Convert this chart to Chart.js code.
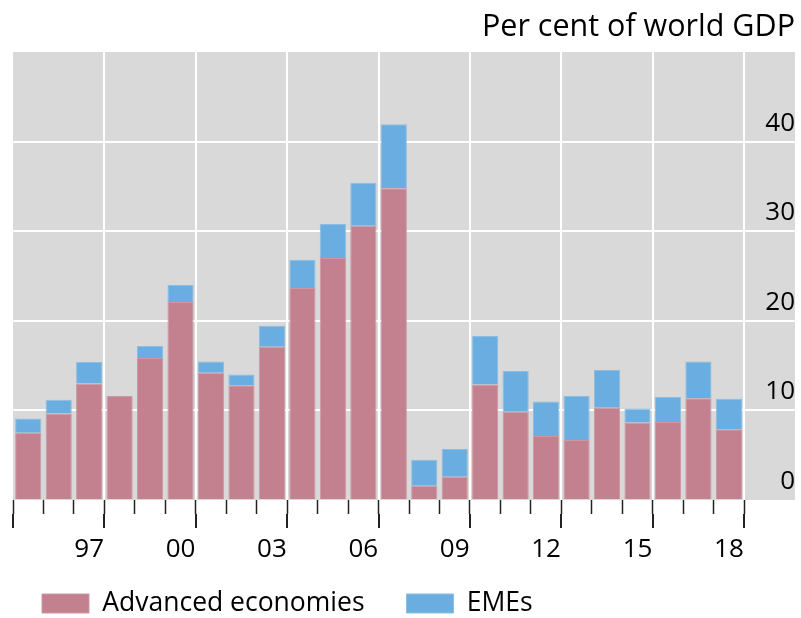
<!DOCTYPE html>
<html>
<head>
<meta charset="utf-8">
<script src="https://cdn.jsdelivr.net/npm/chart.js@4"></script>
<style>
  html, body { margin: 0; padding: 0; background: #fff; }
  #wrap { width: 801px; height: 618px; }
</style>
</head>
<body>
<div id="wrap"><canvas id="gdpChart" width="801" height="618"></canvas></div>
<script>
// years on the x axis, one bar each
const years = [1995, 1996, 1997, 1998, 1999, 2000, 2001, 2002, 2003, 2004, 2005, 2006,
               2007, 2008, 2009, 2010, 2011, 2012, 2013, 2014, 2015, 2016, 2017, 2018];

// per cent of world GDP
const advanced = [7.5, 9.65, 13.0, 11.6, 15.85, 22.1, 14.2, 12.8, 17.1, 23.65, 27.0, 30.6,
                  34.8, 1.6, 2.6, 12.9, 9.85, 7.15, 6.7, 10.3, 8.65, 8.7, 11.35, 7.9];
const emes = [1.6, 1.55, 2.4, 0, 1.35, 1.9, 1.25, 1.2, 2.35, 3.15, 3.8, 4.8,
              7.15, 2.9, 3.1, 5.4, 4.55, 3.85, 4.9, 4.2, 1.55, 2.8, 4.1, 3.4];

// labelled years (every third) and their tick text
const labelYears = [1997, 2000, 2003, 2006, 2009, 2012, 2015, 2018];
const tickLabels = ['97', '00', '03', '06', '09', '12', '15', '18'];
const yTicks = [0, 10, 20, 30, 40];

const xMin = 1994.5;
const xMax = 2020.17;
const FONT = "'Open Sans', 'Noto Sans', sans-serif";

const plotBackground = {
    id: 'plotBackground',
    beforeDraw(chart) {
        const { ctx, chartArea: a } = chart;
        ctx.save();
        ctx.fillStyle = '#d9d9d9';
        ctx.fillRect(a.left, a.top, a.right - a.left, a.bottom - a.top);
        ctx.restore();
    }
};

const ctx = document.getElementById('gdpChart').getContext('2d');

new Chart(ctx, {
    type: 'bar',
    data: {
        datasets: [
            {
                label: 'Advanced economies',
                data: years.map((y, i) => ({ x: y, y: advanced[i] })),
                backgroundColor: '#c3808f',
                borderColor: '#cc98a4',
                borderWidth: 1,
                categoryPercentage: 1,
                barPercentage: 0.86
            },
            {
                label: 'EMEs',
                data: years.map((y, i) => ({ x: y, y: emes[i] })),
                backgroundColor: '#6aade0',
                borderColor: '#8dbde3',
                borderWidth: 1,
                categoryPercentage: 1,
                barPercentage: 0.86
            }
        ]
    },
    options: {
        responsive: false,
        animation: false,
        layout: { padding: { left: 0, right: 6, top: 0, bottom: -8.75 } },
        scales: {
            x: {
                type: 'linear',
                position: 'bottom',
                stacked: true,
                offset: false,
                min: xMin,
                max: xMax,
                afterBuildTicks: scale => {
                    scale.ticks = years.map(y => ({ value: y - 0.5 })).concat([{ value: 2018.5 }]);
                },
                grid: {
                    offset: false,
                    drawOnChartArea: false,
                    tickLength: 14,
                    tickColor: '#222',
                    tickWidth: 1.5
                },
                border: { display: false },
                ticks: { display: false }
            },
            x2: {
                type: 'linear',
                position: 'bottom',
                offset: false,
                min: xMin,
                max: xMax,
                afterBuildTicks: scale => {
                    scale.ticks = [1994.5].concat(labelYears.map(y => y + 0.5)).map(v => ({ value: v }));
                },
                grid: {
                    offset: false,
                    drawOnChartArea: true,
                    color: c => (c.tick && c.tick.value === xMin) ? 'rgba(0,0,0,0)' : '#ffffff',
                    lineWidth: 2,
                    tickLength: 14,
                    tickColor: '#222',
                    tickWidth: 2
                },
                border: { display: false },
                ticks: {
                    autoSkip: false,
                    maxRotation: 0,
                    padding: 3,
                    labelOffset: -15.23,
                    color: '#000',
                    font: { family: FONT, size: 26, lineHeight: 1.423 },
                    callback: v => {
                        const i = labelYears.indexOf(Math.round(v - 0.5));
                        return i >= 0 ? tickLabels[i] : '';
                    }
                }
            },
            y: {
                type: 'linear',
                position: 'right',
                stacked: true,
                min: 0,
                max: 50,
                afterBuildTicks: scale => {
                    scale.ticks = yTicks.concat([50]).map(v => ({ value: v }));
                },
                grid: {
                    color: c => (c.tick && (c.tick.value === 0 || c.tick.value === 50)) ? 'rgba(0,0,0,0)' : '#ffffff',
                    lineWidth: 2,
                    drawTicks: false
                },
                border: { display: false },
                ticks: {
                    mirror: true,
                    padding: 0,
                    labelOffset: -18.5,
                    color: '#000',
                    font: { family: FONT, size: 26 },
                    callback: v => yTicks.includes(v) ? String(v) : ''
                }
            },
            // empty spacer on the left so the plot starts at x = 13
            yLeft: {
                type: 'linear',
                position: 'left',
                grid: {
                    drawOnChartArea: false,
                    drawTicks: true,
                    tickLength: 13,
                    tickColor: 'rgba(0,0,0,0)'
                },
                border: { display: false },
                ticks: { display: false }
            }
        },
        plugins: {
            title: {
                display: true,
                text: 'Per cent of world GDP',
                align: 'end',
                color: '#000',
                font: { family: FONT, size: 30.5, weight: 'normal' },
                padding: { top: 9, bottom: 6.4 }
            },
            legend: {
                position: 'bottom',
                align: 'start',
                // empty legend title with negative padding pulls the items up
                title: {
                    display: true,
                    text: '',
                    font: { size: 10, lineHeight: 1 },
                    padding: { top: -16.375, bottom: -16.375 }
                },
                labels: {
                    boxWidth: 47,
                    boxHeight: 19,
                    padding: 42,
                    color: '#000',
                    font: { family: FONT, size: 26.5 }
                }
            },
            tooltip: { enabled: false }
        }
    },
    plugins: [plotBackground]
});
</script>
</body>
</html>
